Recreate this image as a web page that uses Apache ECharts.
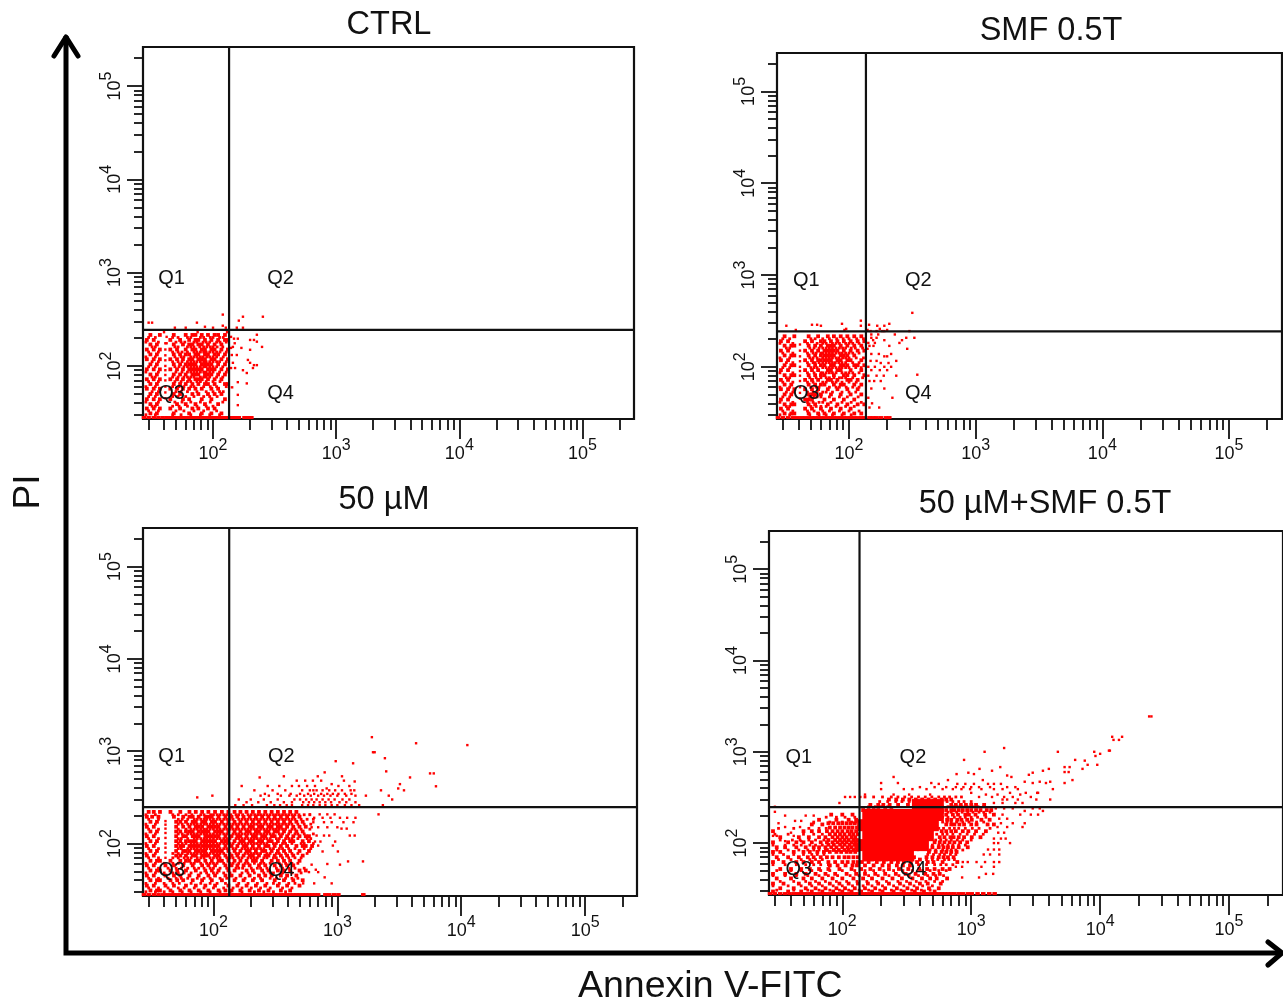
<!DOCTYPE html>
<html><head><meta charset="utf-8">
<style>html,body{margin:0;padding:0;background:#fff}#c{width:1283px;height:1004px}
canvas[data-zr-dom-id="zr_0"]{filter:blur(0.55px)}</style>
<script src="https://cdn.jsdelivr.net/npm/echarts@6/dist/echarts.min.js"></script>
</head><body><div id="c"></div>
<script>
// ---- tick labels / ticks (fluorescence intensity)
const majorTicks = [100, 1000, 10000, 100000];
const minorTicks = [30,40,50,60,70,80,90,200,300,400,500,600,700,800,900,2000,3000,4000,5000,6000,7000,8000,9000,20000,30000,40000,50000,60000,70000,80000,90000,200000];
const axisMin = 27, axisMax = 262144;
const panelTitles = ['CTRL', 'SMF 0.5T', '50 µM', '50 µM+SMF 0.5T'];
const quadrantNames = ['Q1', 'Q2', 'Q3', 'Q4'];
const quadrantX = [46, 353, 46, 353];
const quadrantY = [868, 868, 51, 51];
const gateX = [135, 136, 134, 136];
const gateY = [244, 243, 248, 248];
const floorY = 28;

// ---- events, each row: [PI, Annexin, Annexin, ...]
const ctrlClumps = [
[215,31,37,48,60,68,72,81,91,103,110,125],
[190,29,33,45,54,64,72,76,86,97,110,125,132],
[170,31,35,48,57,64,68,76,81,91,103,117],
[150,29,33,37,45,51,60,68,72,81,86,97,103,117,132],
[133,31,35,48,54,60,64,72,76,86,91,103,110,125],
[118,29,33,37,45,51,57,64,68,76,81,86,97,103,117,132],
[104,31,35,48,54,60,64,68,72,81,86,91,97,110,125],
[92,29,33,37,45,51,57,64,68,72,76,81,91,97,103,117,132],
[81,31,35,48,54,60,68,72,76,86,91,97,110,125],
[72,29,33,37,45,51,57,64,72,76,81,91,103,117],
[64,31,35,48,54,60,68,76,86,91,103,125,132],
[57,29,33,37,45,51,57,64,72,81,97,110],
[50,31,35,48,54,68,76,91,103,117],
[44,29,33,37,45,57,64,81,97,125],
[39,31,35,51,60,72,86,110],
[35,29,33,37,45,54,68,76,91,103],
[31,31,35,48,64,81,97,117]];
const ctrlFill = [
[202,30,34,47,52,62,66,79,84,95,100,113,121],
[180,28.5,36,50,55,59,70,74,83,88,94,107,114,128],
[160,32,34,49,52,62,66,70,78,84,89,95,100,108,120],
[141,30,36,47,52,56,62,70,74,79,84,88,94,100,107,114,128],
[125,28.5,34,49,55,58,66,70,74,79,83,89,94,100,107,121],
[111,32,36,47,52,56,62,66,70,74,79,84,88,94,100,107,113,128],
[98,30,34,49,53,58,62,66,70,74,79,84,88,94,100,107,120],
[86,28.5,36,50,56,62,66,70,74,79,84,88,94,100,113,128],
[76,32,34,47,52,58,62,66,70,79,84,88,94,107,120],
[68,30,36,49,55,62,66,74,79,88,100,114],
[60,28.5,34,47,53,58,66,70,84,95,107,128],
[53,32,36,50,55,62,74,88,100,113,121],
[47,30,34,47,52,60,70,84,94,108],
[41,28.5,36,49,56,66,79,95,120],
[37,32,34,47,53,62,74,88,100],
[33,30,36,50,58,70,84,107],
[30,28.5,34,47,55,66,79,94,113]];
const ctrlDots = [
[355,120],[337,175,254],[306,162],[291,30,32,74],[270,120],[263,86],[257,49,60,100,127,156,175],
[216,227],[196,159,148],[190,200,215],[182,227],[160,250,145],[156,170,140],[149,200],[131,156,142],
[116,192],[108,145,200],[102,227,215],[95,151,211,140],[90,175],[84,188],[67,159],[65,188],[59,135,143],
[49,159],[38,159],[175,41],[150,41],[130,41],[115,41],[100,41],[90,41],[80,41],[70,41],[60,41],[52,41],[45,41],[230,40,75,130],[205,42,140],[175,42,150]];
const ctrlFloor = [27.5,30,33,36,39,42,45,48,51,54,57,60,64,68,72,76,81,86,91,97,103,110,117,125,132,142,152,162,180,192,205];

const smfClumps = [
[215,31,37,48,57,68,76,86,97,110,125],
[190,29,33,45,51,60,64,72,81,91,103,117,132],
[170,31,35,37,48,54,60,68,72,76,86,97,110,125],
[150,29,33,45,51,57,64,68,72,76,81,91,103,117,132],
[133,31,35,37,48,54,60,64,68,72,76,86,91,97,110],
[118,29,33,45,51,57,60,64,68,72,81,86,97,103,125],
[104,31,35,37,48,54,60,64,72,76,86,91,97,110,117,132],
[92,29,33,45,51,57,68,72,81,86,103,125],
[81,31,35,37,48,54,60,64,76,91,97,110,132],
[72,29,33,45,51,57,68,72,81,97,103,117],
[64,31,35,48,54,60,64,76,86,91,110,125],
[57,29,33,37,45,51,57,68,81,97,117],
[50,31,35,48,51,54,60,72,86,103,125],
[44,29,33,45,48,51,64,76,91,110],
[39,31,35,37,48,54,68,81,97,117,132],
[35,29,33,45,51,60,72,86,103],
[31,31,35,37,48,57,64,76,91,110,125]];
const smfFill = [
[202,30,34,50,54,62,70,80,90,100,115,130],
[180,28.5,36,47,56,62,66,74,79,84,94,100,107,120],
[160,32,34,49,53,58,62,66,70,74,79,84,89,94,104,112,128],
[141,30,36,47,52,55,60,62,66,70,74,79,84,88,94,100,107,120],
[125,28.5,34,49,52,56,62,66,70,74,79,83,89,94,100,114,130],
[111,32,36,47,52,54,58,62,66,70,74,78,83,88,94,107,120],
[98,30,34,50,53,56,62,66,70,74,79,84,88,94,100,113,125],
[86,28.5,36,47,53,60,62,66,70,74,79,88,94,100,107,120],
[76,32,34,49,55,60,66,70,76,84,88,94,107,128],
[68,30,36,47,52,62,66,74,79,88,100,114],
[60,28.5,34,50,55,58,70,79,84,95,107,120],
[53,32,36,47,52,56,62,66,74,88,100,113],
[47,30,34,49,53,56,60,70,84,97,118],
[41,28.5,36,47,52,58,62,72,88,104,125],
[37,32,34,50,55,60,66,79,94,110],
[33,30,36,47,53,62,70,84,100,120],
[30,28.5,34,49,58,66,74,88,104]];
const smfDots = [
[387,316],[318,124],[294,88,208],[287,51,56,144],[280,32,124,167,190,60],[259,95,175],[252,38,92,140,200],[245,183,300,190,165,148],
[207,283,328,150,165],[182,250,142,160],[169,208,145,156],[157,288,140],[138,215,150,172],[116,236,148,165],[100,142,160,190,215],
[92,150,175,200],[80,236,142,165,188],[82,346],[70,145,158,178],[58,190,150],[46,220,142],[40,152],[36,173,145],
[175,41],[150,41],[130,41],[115,41],[100,41],[90,41],[80,41],[70,41],[60,41],[52,41],[45,41],[225,150,170,230],[195,155,190,262],[130,190,200],[110,178,205]];
const smfFloor = [27.5,30,33,36,39,42,45,48,51,54,57,60,64,68,72,76,81,86,91,97,103,110,117,125,132,145,155,165,178,195,208];

const low50Clumps = [
[220,30,33,37,45,54,64,72,81,91,103,117,132,148,165,185,208,233,262,295,331,371,416,467],
[195,29,32,36,48,57,64,68,76,86,91,97,110,125,140,156,175,196,220,247,278,312,350,393,441,495],
[172,31,35,50,54,60,68,72,81,86,97,103,117,132,148,165,185,208,233,262,295,331,371,416,467,525],
[152,29,33,50,57,64,72,76,81,91,97,103,110,125,140,156,175,196,208,233,247,278,295,331,350,393,441,495,556],
[135,31,35,50,54,60,64,68,76,81,86,91,103,110,117,132,148,165,185,196,220,233,262,278,312,331,371,416,467,525],
[120,29,33,50,57,60,68,72,76,86,91,97,103,110,125,140,156,165,185,208,220,247,262,295,312,350,393,441,495,556,590],
[106,31,35,50,54,60,64,68,72,81,86,91,97,103,117,125,132,148,165,175,196,208,233,247,278,295,331,371,416,441,525,590],
[94,29,33,50,54,57,64,68,72,76,81,86,91,97,103,110,125,140,156,175,185,208,233,262,278,312,350,393,467,525,556,625],
[83,31,35,50,57,60,64,72,76,81,86,97,103,110,117,132,148,165,185,196,220,247,262,295,331,371,416,495,590],
[74,29,33,50,54,60,68,72,81,86,91,103,110,125,140,156,175,196,208,233,262,278,312,350,393,441,525],
[65,31,35,37,45,54,60,64,72,76,86,97,110,117,132,148,165,185,208,220,247,295,331,371,416,495],
[58,29,33,41,48,57,68,81,91,103,125,140,156,175,196,233,262,312,350,393,441],
[51,31,35,37,45,51,60,72,86,97,110,132,148,185,208,247,278,331,371,416,495,556],
[45,29,33,41,48,54,64,76,91,103,125,140,165,196,233,262,295,350,393,467],
[40,31,35,37,45,51,57,68,81,97,117,148,175,208,247,312,371,441,525],
[35,29,33,41,48,60,72,86,103,132,156,185,220,262,331,393,495],
[31,31,35,37,45,54,64,76,91,110,125,140,165,196,233,278,350,416]];
const low50Fill = [
[205,28.5,34,47,52,60,67,79,84,95,100,107,113,121,128,138,152,160,172,190,202,215,228,240,255,270,287,305,322,340,361,382,405,430,455,490,540,600],
[183,30,36,52,56,62,70,74,79,84,88,94,100,107,113,121,128,136,144,160,170,180,190,202,214,226,240,255,270,287,305,322,340,361,382,405,430,455,510,570,640],
[162,28.5,34,52,56,62,66,70,74,79,84,88,94,100,107,113,121,128,136,144,152,160,170,180,190,202,214,226,240,255,270,287,305,322,340,361,382,405,430,480,540,610],
[143,30,36,52,60,66,70,74,79,84,88,94,100,107,113,121,128,136,144,152,160,170,180,190,202,214,226,240,255,270,287,305,322,340,361,382,430,455,510,600],
[127,28.5,34,52,56,62,66,70,74,79,84,88,94,100,107,113,121,128,144,152,160,170,180,190,202,214,226,240,255,270,287,305,340,361,405,455,480,540,640],
[113,30,36,52,55,62,70,74,79,84,88,94,100,107,113,121,128,136,152,160,170,180,190,202,214,226,240,255,270,287,322,340,382,405,430,480,570,610],
[100,28.5,34,52,56,60,66,70,74,79,84,88,94,100,107,113,121,128,136,144,160,170,180,190,202,214,226,240,255,270,305,322,361,382,430,510,540,640],
[88,30,36,52,55,62,66,70,74,79,84,88,94,100,107,113,121,128,144,152,170,180,190,202,214,226,240,255,287,305,340,361,405,455,540,610],
[78,28.5,34,47,52,56,62,66,70,74,79,84,88,94,100,107,113,121,136,152,160,180,190,202,214,226,240,270,287,322,340,382,430,480,570],
[70,30,36,47,52,58,62,66,74,79,84,94,100,107,113,128,136,144,160,170,190,202,214,226,255,270,305,322,361,405,455,510],
[61,28.5,34,40,47,52,58,66,70,79,88,94,100,107,121,136,144,160,180,190,214,240,255,287,340,382,430,480],
[54,30,36,43,50,55,62,70,76,84,94,100,113,128,152,160,172,202,226,240,270,322,361,405,455,540],
[48,28.5,34,40,47,52,58,66,79,88,100,107,121,136,170,190,214,255,287,305,361,430,510],
[42,30,36,43,50,55,62,74,84,94,113,128,152,180,214,240,287,322,382,430,480],
[37,28.5,34,40,47,53,66,79,94,107,125,160,190,226,270,305,340,405,455],
[33,30,36,43,52,58,70,84,100,121,144,170,202,240,287,361,430],
[30,28.5,34,40,47,56,66,79,94,113,136,170,214,255,305,382]];
const low50Dots = [
[1420,1900],[1220,4320],[1165,11200],[975,1940,2000],[840,2420],[780,970],[740,1340],[605,2480],[590,790],[575,5600,6000],
[535,370,695,1090],[520,3860,236],[480,470,635,550,740,1130],[470,1380],[440,3200,900],[417,6250],[420,169,274,340,430,490,570,660,1020,1250],
[395,3100,820],[377,214,300,380,520,600,680,760,860,960,1090,2250,3450,1280,1370,640],[345,260,330,420,500,580,650,740,830,920,1020,1150,1300],[330,98,240,280,350,410,470,540,610,700,780,880,1000,1180,1400,1700,2600],
[316,74],[300,2770,160,200,255,330,450,500,560,620,680,760,850,950,1100,1250],[280,185,230,290,370,430,530,590,650,720,800,890,1040,1180,1400],[260,150,175,205,270,310,345,390,430,520,580,640,720,800,900,1000,1150,1300,1500,2330],
[207,2150,600,720,830,950],[190,650,760,880,1050,1200,1400],[170,640,780,900,1120,1350],[150,620,700,830,1000],[145,1190,1080],[122,1380,1260,680,780,860],
[105,660,730,960],[95,920,700],[82,1010,760],[64,1610,1220],[59,1050,620],[60,830],[49,700,590],[43,790],[37,900,530,650],[52,670],
[175,41],[160,41],[145,41],[130,41],[115,41],[100,41],[90,41],[80,41],[70,41]];
const low50Floor = [27.5,30,33,36,39,42,45,48,51,54,57,60,64,68,72,76,81,86,91,97,103,110,117,125,132,140,148,156,165,175,185,196,208,220,233,247,262,278,295,312,331,350,371,393,416,441,467,495,525,556,590,625,662,700,800,860,940,1020,1620];

const combCore = [
[261,386,461,551],
[203,159,190,227,271,323,386,461,551],
[157,145,174,208,248,296,353,422,504],
[122,159,190,227,271,323,386,461],
[95,145,174,208,248,296,353,422],
[74,159,190,227,271,323]];
const combClumps = [
[300,230,262,295,331,371,416,467,525,590,640,700],
[262,165,190,208,233,271,323,700,760,830,910,1000,1090,1260],
[230,145,160,175,190,215,240,640,700,740,800,860,930,1000,1090,1180,1320,1430],
[205,120,100,82,640,720,790,900,960,1080,1280,1500],
[180,66,90,112,128,650,700,780,840,930,1010,1200,1390],
[165,78,85,93,100,108,116,125],
[160,58,70,640,700,740,810,880,1000,1100,1340,1500],
[148,80,88,96,104,112,120,130],
[135,29,50,58,66,76,84,92,100,110,118,128,590,640,700,760,860,950,1090,1300],
[125,80,88,96,104,114,122,132],
[116,33,46,55,66,74,84,92,100,108,118,126,570,620,690,730,800,880,1010,1180],
[108,78,88,96,104,112,122,130],
[102,29,38,44,50,58,68,76,84,92,100,108,118,126,520,570,620,680,740,820,930],
[96,78,86,96,104,114,124,132],
[90,31,36,44,52,60,66,74,82,90,100,110,118,128,500,560,610,660,720,800,940],
[84,76,86,94,104,112,122,130],
[80,29,33,42,50,56,64,72,80,90,98,108,116,126,470,530,590,640,700,770],
[70,31,38,46,54,60,68,76,84,94,104,112,122,132,360,450,500,560,610,660,730],
[66,150,170,195,220,250,280,315,350,400],
[62,29,35,44,50,58,66,78,88,100,110,122,132,142,160,185,210,240,270,300,340,380,460,510,600,780],
[57,80,92,106,120,130,150,175,205,230,265,295,335],
[52,33,40,48,56,66,78,95,118,140,165,195,230,275,325,395,455,520,600,680],
[46,29,36,44,52,62,74,88,108,128,150,180,215,260,310,370,440,510,570],
[41,31,40,50,58,70,84,100,122,145,170,205,245,290,350,415,480,540,650],
[36,29,35,46,56,66,80,95,112,132,158,190,230,280,335,400,460,580],
[32,33,42,52,62,74,90,105,125,150,180,215,265,320,380,470,560],
[29.5,29,38,48,58,70,85,100,118,140,170,205,250,300,365,430,520]];
const combFill = [
[320,150,175,205,240,270,305,345,390,440,495,560,620,680,760,840],
[285,195,225,260,290,330,370,420,470,520,580,650,720,800,880,1000],
[250,160,180,200,225,600,660,720,780,850,930,1020,1130,1250],
[218,560,600,660,700,770,850,940,1030,1150,1250,1400],
[192,125,105,90,75,600,660,740,820,900,1000,1120,1300],
[170,60,80,100,118,128,600,650,700,770,860,960,1100,1250],
[145,32,42,55,66,75,560,610,680,740,800,900,1020,1150,1400],
[125,30,38,50,60,70,540,600,650,720,820,930,1060,1240],
[108,33,41,47,55,62,72,530,580,640,700,780,860,1000],
[95,29,36,42,48,56,62,70,500,560,600,660,720,800,900],
[84,31,38,46,54,60,66,74,480,530,600,650,700,760,860],
[75,29,35,42,50,58,64,72,460,510,570,620,690,760],
[66,32,40,48,56,62,70,450,500,550,620,670,740],
[58,29,36,44,52,60,68,78,390,450,520,580,640,720],
[50,31,40,48,58,68,80,100,125,150,175,210,250,295,350,420,480,560,640],
[44,29,36,44,54,66,78,92,115,135,160,190,230,275,330,390,460,530,610],
[38,33,42,52,62,74,90,108,130,155,185,220,270,315,375,445,520,600],
[34,29,38,48,58,70,85,100,120,145,170,205,250,300,360,420,500],
[30.5,31,42,54,66,80,95,112,135,160,195,240,285,345,410,480]];
const combDots = [
[2440,25000,24000],[1460,14800,12400],[1350,12700,14000],[1100,1800],[1030,11700,11900],[1000,1270,4700,9000],[950,10000],[900,9200],
[815,880,6400],[800,7600],[720,9500,8000],[680,1680,5300,5800],[650,1160,4000,7300],[620,1450,3600],[600,5300,5700],[590,950,3000],[570,770,1050],
[560,2800],[550,1900],[530,250,2050],[490,660,6100,1230],[470,3400,4100,2600],[455,200,270,490,3000,3800,5300],[445,560,780,900,1050,1350,1500,1700],
[410,400,520,640,760,870,1000,1150,1400,1900,2200],[390,200,300,350,450,600,720,840,980,1200,1500,1750,2300,4300],[355,3250,3300,2650,2000,1000],
[340,150,250,330,480,1300,1600,2400],[320,105,115,125,138,1150,1450,1800,2100,2900],[300,4100,3200,2300,1900,1750],[275,95,1500,1750,2200,2500],
[240,1550,1800,2100,3000,3400],[225,3600,2600],[205,1750,2400,3300,2900],[185,1650,1900],[165,1700,2100,2600],[150,1600,1900,2500],[130,1620,1800],
[112,1500,1700,1850],[100,1500,1620,2000],[85,1350,1500,1650],[75,1250,1400,1650],[62,1100,1280,1500,1650,860,940],[55,1200,1500,760,850],[46,1300,1480],[42,1150,850],
[150,36,47],[120,29,31,42],[105,36,48],[220,30],[200,36,52,60],[175,43,48],[165,32,60],[130,40],[250,30]];
const combFloor = [27.5,30,33,36,39,42,45,48,51,54,57,60,64,68,72,76,81,86,91,97,103,110,117,125,132,140,148,156,165,175,185,196,208,220,233,247,262,278,295,312,331,350,371,393,416,441,467,495,525,556,590,625,662,700,740,800,860,940,1010,1120,1240,1380,1520];

// ---- panel layout (grid rectangles on the page)
const panels = [
 {left:143, top:47,  width:491, height:372, titleX:384,  titleTop:4,   clumps:ctrlClumps,  fill:ctrlFill,  dots:ctrlDots,  floor:ctrlFloor,  core:[]},
 {left:777, top:53,  width:505, height:366, titleX:1046, titleTop:10,  clumps:smfClumps,   fill:smfFill,   dots:smfDots,   floor:smfFloor,   core:[]},
 {left:143, top:528, width:494, height:368, titleX:379,  titleTop:479, clumps:low50Clumps, fill:low50Fill, dots:low50Dots, floor:low50Floor, core:[]},
 {left:769, top:531, width:518, height:364, titleX:1040, titleTop:483, clumps:combClumps,  fill:combFill,  dots:combDots,  floor:combFloor,  core:combCore}
];

const FONT = '"Liberation Sans", Arial, sans-serif';
const INK = '#111';
const lg = Math.log10;
const expand = rows => rows.flatMap(r => r.slice(1).map(x => [lg(x), lg(r[0])]));

const superscript = v => '{b|10}{s|' + Math.round(v) + '}';
const rich = { b:{fontSize:18, fontFamily:FONT, color:INK, lineHeight:32},
               s:{fontSize:16, fontFamily:FONT, color:INK, lineHeight:12, verticalAlign:'top'} };

const grid=[], xAxis=[], yAxis=[], series=[], title=[];
panels.forEach((p, i) => {
  grid.push({left:p.left, top:p.top, width:p.width, height:p.height, show:true, borderColor:INK, borderWidth:2.2, backgroundColor:'#fff', containLabel:false});
  title.push({text:panelTitles[i], left:p.titleX, top:p.titleTop, textAlign:'center', zlevel:1,
    textStyle:{fontFamily:FONT, fontSize:32.5, fontWeight:'normal', color:'#111'}});
  const base = {type:'value', gridIndex:i, min:lg(axisMin), max:lg(axisMax), splitLine:{show:false}, axisLine:{show:false}};
  const major = (ext, len, margin, rot) => Object.assign({}, base, ext, {
    axisTick:{show:true, length:len, customValues:majorTicks.map(lg), lineStyle:{color:INK, width:1.8}},
    axisLabel:{show:true, customValues:majorTicks.map(lg), margin:margin, rotate:rot, formatter:superscript, rich:rich, hideOverlap:false, showMinLabel:true, showMaxLabel:true}});
  const minor = (ext, len) => Object.assign({}, base, ext, {
    axisTick:{show:true, length:len, customValues:minorTicks.map(lg), lineStyle:{color:INK, width:1.8}},
    axisLabel:{show:false}});
  const xi = xAxis.length, yi = yAxis.length;
  xAxis.push(major({position:'bottom'}, 20, 19, 0), minor({position:'bottom'}, 11));
  yAxis.push(major({position:'left'}, 16, 12, 90), minor({position:'left'}, 9));
  const common = {type:'scatter', xAxisIndex:xi, yAxisIndex:yi, symbol:'rect', silent:true, animation:false, itemStyle:{color:'#ff0000', opacity:1}};
  if (p.core.length) series.push(Object.assign({}, common, {name:'core'+i, symbolSize:12, data:expand(p.core)}));
  series.push(Object.assign({}, common, {name:'clumps'+i, symbolSize:3.8, data:expand(p.clumps)}));
  series.push(Object.assign({}, common, {name:'fill'+i, symbolSize:2.8, data:expand(p.fill)}));
  series.push(Object.assign({}, common, {name:'dots'+i, symbolSize:2.4, data:expand(p.dots)}));
  series.push(Object.assign({}, common, {name:'floor'+i, symbolSize:[4.5,3], data:p.floor.map(x=>[lg(x), lg(floorY)])}));
  // quadrant gates
  series.push({type:'line', xAxisIndex:xi, yAxisIndex:yi, silent:true, animation:false, symbol:'none', z:5,
    lineStyle:{color:INK, width:2.2}, data:[[lg(gateX[i]), lg(axisMin)],[lg(gateX[i]), lg(axisMax)]]});
  series.push({type:'line', xAxisIndex:xi, yAxisIndex:yi, silent:true, animation:false, symbol:'none', z:5,
    lineStyle:{color:INK, width:2.2}, data:[[lg(axisMin), lg(gateY[i])],[lg(axisMax), lg(gateY[i])]]});
  // quadrant names
  series.push({type:'scatter', xAxisIndex:xi, yAxisIndex:yi, silent:true, animation:false, symbolSize:0, z:6,
    itemStyle:{opacity:1},
    label:{show:true, position:'inside', formatter:'{b}', fontFamily:FONT, fontSize:20, color:'#111', opacity:1},
    data:quadrantNames.map((n,k)=>({name:n, value:[lg(quadrantX[k]), lg(quadrantY[k])]}))});
});

const chart = echarts.init(document.getElementById('c'), null, {renderer:'canvas', width:1283, height:1004});
chart.setOption({
  animation:false, backgroundColor:'#fff', grid, xAxis, yAxis, series, title,
  graphic:[
    {type:'polyline', zlevel:1, shape:{points:[[66,36],[66,953],[1282,953]]}, style:{stroke:'#000', lineWidth:5, fill:null}, z:10},
    {type:'polyline', zlevel:1, shape:{points:[[54,56],[66,37],[78,56]]}, style:{stroke:'#000', lineWidth:5, fill:null, lineCap:'round', lineJoin:'round'}, z:10},
    {type:'polyline', zlevel:1, shape:{points:[[1268,942],[1282,953],[1268,965]]}, style:{stroke:'#000', lineWidth:5, fill:null, lineCap:'round', lineJoin:'round'}, z:10},
    {type:'text', zlevel:1, left:578, top:968, style:{text:'Annexin V-FITC', font:'37.5px '+FONT, fill:'#111'}, z:10},
    {type:'text', zlevel:1, x:29, y:492, rotation:Math.PI/2, style:{text:'PI', font:'37px '+FONT, fill:'#111', textAlign:'center', textVerticalAlign:'middle'}, z:10}
  ]
});
</script></body></html>
